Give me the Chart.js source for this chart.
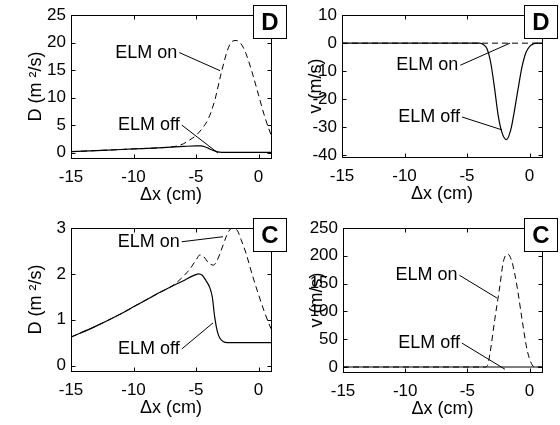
<!DOCTYPE html>
<html>
<head>
<meta charset="utf-8">
<script src="https://cdn.jsdelivr.net/npm/chart.js@4.4.1/dist/chart.umd.min.js"></script>
<style>
html, body { margin: 0; padding: 0; background: #fff; }
#wrap { position: relative; width: 560px; height: 425px; }
#wrap canvas { position: absolute; left: 0; top: 0; }
</style>
</head>
<body>
<div id="wrap">
    <canvas id="dDiff" width="560" height="425"></canvas>
    <canvas id="dVel" width="560" height="425"></canvas>
    <canvas id="cDiff" width="560" height="425"></canvas>
    <canvas id="cVel" width="560" height="425"></canvas>
</div>
<script>
// shared x axis ticks (cm)
const xTicks = [-15, -10, -5, 0];

// case D, diffusion D (m^2/s)
const dDiffOffX = [-15, -12, -10, -8, -6, -5, -4.6, -4.3, -4, -3.7, -3.4, -3.1, -2.8, -2, 0, 1];
const dDiffOffY = [0.15, 0.45, 0.65, 0.85, 1.1, 1.2, 1.2, 1.05, 0.75, 0.45, 0.2, 0.07, 0.03, 0.02, 0.02, 0.02];
const dDiffOnX = [-15, -12, -10, -8, -7, -6.5, -6, -5.5, -5, -4.5, -4, -3.5, -3, -2.5, -2.2, -1.8, -1.4, -1, -0.5, 0, 0.5, 1];
const dDiffOnY = [0.15, 0.45, 0.65, 0.85, 1.0, 1.2, 1.6, 2.3, 3.1, 4.4, 6.2, 9.5, 14.3, 18.5, 20, 20.4, 19.8, 18, 14.5, 10.5, 6.5, 3.2];
const dDiffTicks = [0, 5, 10, 15, 20, 25];

// case D, pinch velocity v (m/s)
const dVelOffX = [-15, -4, -3.7, -3.4, -3.1, -2.8, -2.5, -2.2, -1.85, -1.5, -1.2, -0.9, -0.6, -0.3, 0, 0.3, 0.6, 1];
const dVelOffY = [0, 0, -0.5, -2, -7, -16, -26, -32, -34.5, -31, -24, -16, -8.5, -3.5, -1.2, -0.3, 0, 0];
const dVelOnX = [-15, 1];
const dVelOnY = [0, 0];
const dVelTicks = [-40, -30, -20, -10, 0, 10];

// case C, diffusion D (m^2/s)
const cDiffOffX = [-15, -13, -11, -10, -9, -8, -7, -6, -5.3, -4.8, -4.5, -4.2, -3.9, -3.7, -3.5, -3.3, -3.1, -2.8, -2.5, 0, 1];
const cDiffOffY = [0.62, 0.86, 1.13, 1.28, 1.43, 1.58, 1.72, 1.85, 1.95, 2.0, 1.97, 1.85, 1.7, 1.5, 1.05, 0.75, 0.6, 0.52, 0.5, 0.5, 0.5];
const cDiffOnX = [-15, -13, -11, -10, -9, -8, -7, -6.5, -6, -5.5, -5, -4.7, -4.4, -4, -3.6, -3.3, -3, -2.6, -2.3, -2, -1.7, -1.4, -1, -0.5, 0, 0.5, 1];
const cDiffOnY = [0.62, 0.86, 1.13, 1.28, 1.43, 1.58, 1.72, 1.82, 1.95, 2.1, 2.3, 2.41, 2.38, 2.24, 2.19, 2.3, 2.5, 2.8, 2.96, 3.0, 2.95, 2.75, 2.45, 1.98, 1.55, 1.15, 0.8];
const cDiffTicks = [0, 1, 2, 3];

// case C, pinch velocity v (m/s)
const cVelOffX = [-15, 1];
const cVelOffY = [0, 0];
const cVelOnX = [-15, -3.6, -3.4, -3.2, -2.8, -2.4, -2.1, -1.75, -1.4, -1.0, -0.6, -0.2, 0.2, 0.5, 1];
const cVelOnY = [0, 0, 2, 22, 85, 144, 190, 203, 188, 144, 85, 31, 4, 0, 0];
const cVelTicks = [0, 50, 100, 150, 200, 250];

const FONT = '"Liberation Sans", Arial, sans-serif';

function toPoints(xs, ys) {
    return xs.map((x, i) => ({ x: x, y: ys[i] }));
}

// axes box, inward ticks, callouts and the panel letter
const framePlugin = {
    id: 'frame',
    afterDraw(chart, args, opts) {
        const ctx = chart.ctx;
        const a = chart.chartArea;
        const xs = chart.scales.x;
        const ys = chart.scales.y;
        const L = Math.round(a.left) + 0.5, R = Math.round(a.right) + 0.5;
        const T = Math.round(a.top) + 0.5, B = Math.round(a.bottom) + 0.5;
        ctx.save();
        ctx.strokeStyle = '#000';
        ctx.lineWidth = 1;
        ctx.beginPath();
        xs.ticks.forEach(t => {
            const px = Math.round(xs.getPixelForValue(t.value)) + 0.5;
            ctx.moveTo(px, B); ctx.lineTo(px, B - 4);
            ctx.moveTo(px, T); ctx.lineTo(px, T + 4);
        });
        ys.ticks.forEach(t => {
            const py = Math.round(ys.getPixelForValue(t.value)) + 0.5;
            ctx.moveTo(L, py); ctx.lineTo(L + 4, py);
            ctx.moveTo(R, py); ctx.lineTo(R - 4, py);
        });
        ctx.stroke();
        ctx.strokeRect(L, T, R - L, B - T);

        // callouts
        ctx.font = '18px ' + FONT;
        ctx.fillStyle = '#000';
        ctx.textAlign = 'right';
        ctx.textBaseline = 'middle';
        (opts.notes || []).forEach(n => {
            const tx = xs.getPixelForValue(n.x);
            const ty = ys.getPixelForValue(n.y);
            ctx.fillText(n.label, tx, ty);
            ctx.beginPath();
            ctx.moveTo(tx + 2, ty);
            ctx.lineTo(xs.getPixelForValue(n.px), ys.getPixelForValue(n.py));
            ctx.stroke();
        });

        // panel letter
        if (opts.letter) {
            const bx = Math.round(a.right) - 18 + 0.5;
            const by = Math.round(a.top) - 10 + 0.5;
            ctx.fillStyle = '#fff';
            ctx.fillRect(bx, by, 33, 33);
            ctx.strokeRect(bx, by, 33, 33);
            ctx.fillStyle = '#000';
            ctx.font = 'bold 24px ' + FONT;
            ctx.textAlign = 'center';
            ctx.textBaseline = 'middle';
            ctx.fillText(opts.letter, bx + 16.5, by + 17.5);
        }
        ctx.restore();
    }
};

function makePanel(cfg) {
    const r = cfg.rect;
    return new Chart(document.getElementById(cfg.id), {
        type: 'line',
        data: {
            datasets: [
                {
                    label: 'ELM on',
                    data: toPoints(cfg.onX, cfg.onY),
                    borderColor: '#000',
                    borderWidth: 1,
                    borderDash: [6, 4],
                    pointRadius: 0,
                    cubicInterpolationMode: 'monotone'
                },
                {
                    label: 'ELM off',
                    data: toPoints(cfg.offX, cfg.offY),
                    borderColor: '#000',
                    borderWidth: 1.2,
                    pointRadius: 0,
                    cubicInterpolationMode: 'monotone'
                }
            ]
        },
        options: {
            responsive: false,
            animation: false,
            layout: {
                padding: {
                    left: r.l - cfg.yW,
                    top: r.t,
                    right: 560 - r.r,
                    bottom: 425 - r.b - cfg.xH
                }
            },
            plugins: {
                legend: { display: false },
                tooltip: { enabled: false },
                frame: { letter: cfg.letter, notes: cfg.notes }
            },
            scales: {
                x: {
                    type: 'linear',
                    min: -15,
                    max: 1,
                    afterBuildTicks: s => { s.ticks = xTicks.map(v => ({ value: v })); },
                    afterFit: s => { s.height = cfg.xH; },
                    grid: { display: false, drawTicks: false },
                    border: { display: false },
                    ticks: { color: '#000', font: { family: FONT, size: 17 }, padding: 9, maxRotation: 0 },
                    title: { display: true, text: 'Δx (cm)', color: '#000', font: { family: FONT, size: 18 }, padding: 0 }
                },
                y: {
                    type: 'linear',
                    min: cfg.yMin,
                    max: cfg.yMax,
                    afterBuildTicks: s => { s.ticks = cfg.yTicks.map(v => ({ value: v })); },
                    afterFit: s => { s.width = cfg.yW; },
                    grid: { display: false, drawTicks: false },
                    border: { display: false },
                    ticks: { color: '#000', font: { family: FONT, size: 17 }, padding: 5 },
                    title: { display: true, text: cfg.yTitle, color: '#000', font: { family: FONT, size: 18 }, padding: 0 }
                }
            }
        },
        plugins: [framePlugin]
    });
}

makePanel({
    id: 'dDiff', rect: { l: 71, r: 271, t: 15, b: 158 }, yW: 46, xH: 48,
    yTitle: 'D (m ²/s)', yMin: -1, yMax: 25, yTicks: dDiffTicks,
    onX: dDiffOnX, onY: dDiffOnY, offX: dDiffOffX, offY: dDiffOffY, letter: 'D',
    notes: [
        { label: 'ELM on', x: -6.5, y: 18.2, px: -3.08, py: 14.9 },
        { label: 'ELM off', x: -6.3, y: 5.0, px: -3.24, py: -0.1 }
    ]
});

makePanel({
    id: 'dVel', rect: { l: 342, r: 542, t: 15, b: 157 }, yW: 37, xH: 48,
    yTitle: 'v (m/s)', yMin: -40.7, yMax: 10, yTicks: dVelTicks,
    onX: dVelOnX, onY: dVelOnY, offX: dVelOffX, offY: dVelOffY, letter: 'D',
    notes: [
        { label: 'ELM on', x: -5.7, y: -7.9, px: -1.56, py: 0 },
        { label: 'ELM off', x: -5.56, y: -26.4, px: -2.2, py: -31 }
    ]
});

makePanel({
    id: 'cDiff', rect: { l: 71, r: 271, t: 228, b: 371 }, yW: 46, xH: 48,
    yTitle: 'D (m ²/s)', yMin: -0.12, yMax: 3, yTicks: cDiffTicks,
    onX: cDiffOnX, onY: cDiffOnY, offX: cDiffOffX, offY: cDiffOffY, letter: 'C',
    notes: [
        { label: 'ELM on', x: -6.3, y: 2.7, px: -2.84, py: 2.81 },
        { label: 'ELM off', x: -6.3, y: 0.36, px: -3.64, py: 0.93 }
    ]
});

makePanel({
    id: 'cVel', rect: { l: 343, r: 542, t: 228, b: 372 }, yW: 37, xH: 48,
    yTitle: 'v (m/s)', yMin: -9, yMax: 250, yTicks: cVelTicks,
    onX: cVelOnX, onY: cVelOnY, offX: cVelOffX, offY: cVelOffY, letter: 'C',
    notes: [
        { label: 'ELM on', x: -5.8, y: 165, px: -2.62, py: 124 },
        { label: 'ELM off', x: -5.6, y: 43, px: -1.98, py: -4 }
    ]
});
</script>
</body>
</html>
